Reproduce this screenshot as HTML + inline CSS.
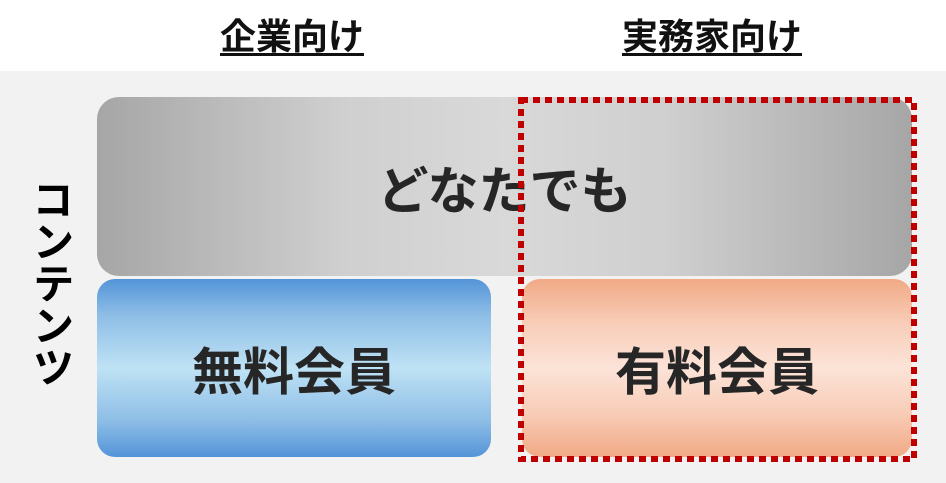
<!DOCTYPE html>
<html><head><meta charset="utf-8"><style>
body{margin:0;width:946px;height:483px;background:#fff;position:relative;overflow:hidden;font-family:"Liberation Sans","Noto Sans CJK JP",sans-serif;}
.bg{position:absolute;left:0;top:71px;width:946px;height:412px;background:#f2f2f2;}
.h{position:absolute;top:8px;font-size:36px;font-weight:bold;text-decoration:underline;text-underline-offset:4px;color:#111;}
.box{position:absolute;display:flex;align-items:center;justify-content:center;font-size:51px;font-weight:bold;color:#262626;}
.v{position:absolute;left:26px;top:178px;width:48px;font-size:42px;font-weight:bold;writing-mode:vertical-rl;color:#000;line-height:48px;}
</style></head><body>
<div class="bg"></div>
<div class="h" style="left:220px">企業向け</div>
<div class="h" style="left:622px">実務家向け</div>
<div class="v">コンテンツ</div>
<div class="box" style="left:97px;top:97px;width:815px;height:179px;border-radius:22px;background:linear-gradient(to right,#a6a6a6 0%,#cfcfcf 30%,#d9d9d9 50%,#cfcfcf 70%,#a6a6a6 100%);">どなたでも</div>
<div class="box" style="left:97px;top:279px;width:394px;height:178px;border-radius:18px;background:linear-gradient(to bottom,#5394d8 0%,#8dbde6 20%,#bfe2f5 50%,#8dbde6 80%,#5394d8 100%);">無料会員</div>
<div class="box" style="left:522px;top:279px;width:390px;height:178px;border-radius:18px;background:linear-gradient(to bottom,#f1a985 0%,#f8cdb8 25%,#fce3d8 50%,#f8cdb8 75%,#f1a985 100%);">有料会員</div>
<svg style="position:absolute;left:0;top:0" width="946" height="483"><rect x="521" y="100" width="393" height="359" fill="none" stroke="#c00000" stroke-width="6" stroke-dasharray="7 5"/></svg>
</body></html>
